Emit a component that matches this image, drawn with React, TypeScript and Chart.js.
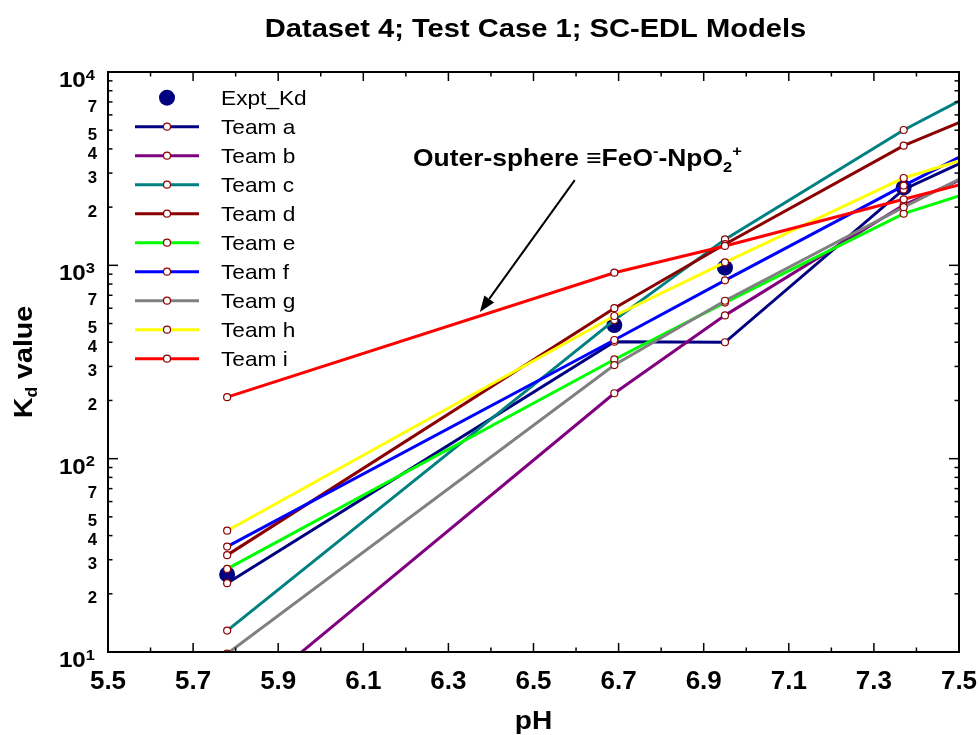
import React, { useEffect, useRef } from 'react';
import { Chart, registerables } from 'chart.js';
Chart.register(...registerables);

// ---------- data ----------
const PH = [5.78, 6.69, 6.95, 7.37, 7.5];
const EXPT_PH = [5.78, 6.69, 6.95, 7.37];
const EXPT_KD = [25.2, 491, 972, 2530];

const TEAM_NAMES = ['Team a', 'Team b', 'Team c', 'Team d', 'Team e', 'Team f', 'Team g', 'Team h', 'Team i'];
const TEAM_COLORS = ['#000080', '#800080', '#008080', '#8B0000', '#00FF00', '#0000FF', '#808080', '#FFFF00', '#FF0000'];
const TEAM_A = [22.7, 403, 400, 2470, 3350];
const TEAM_B = [4.8, 218, 551, 2050, 2750];
const TEAM_C = [12.9, 521, 1362, 5012, 7080];
const TEAM_D = [31.7, 600, 1286, 4158, 5470];
const TEAM_E = [26.9, 326, 642, 1850, 2283];
const TEAM_F = [35.1, 411, 836, 2585, 3620];
const TEAM_G = [9.8, 305, 656, 2000, 2786];
const TEAM_H = [42.4, 547, 1037, 2830, 3465];
const TEAM_I = [208, 916, 1260, 2195, 2604];
const TEAM_VALUES = [TEAM_A, TEAM_B, TEAM_C, TEAM_D, TEAM_E, TEAM_F, TEAM_G, TEAM_H, TEAM_I];
const MARKED = [true, true, true, true, false];

const X_MIN = 5.5;
const X_MAX = 7.5;
const X_STEP = 0.1;
const Y_MIN = 10;
const Y_MAX = 10000;
const Y_DECADES = [1, 2, 3];
const Y_MANTISSAS = [1, 2, 3, 4, 5, 6, 7, 8, 9];
const Y_LABELED = [2, 3, 4, 5, 7];
const SUPERS: Record<number, string> = { 1: '1', 2: '2', 3: '3', 4: '4' };

const TITLE = 'Dataset 4; Test Case 1; SC-EDL Models';
const X_TITLE = 'pH';
const EXPT_LABEL = 'Expt_Kd';

// annotation anchors (data coordinates)
const ANNOT_TEXT_AT = { x: 6.217, y: 3266 };
const ARROW_FROM = { x: 6.597, y: 2760 };
const ARROW_TO = { x: 6.374, y: 574 };

const FONT = '"Liberation Sans", Arial, Helvetica, sans-serif';

type Run = { t: string; size: number; bold?: boolean; dy?: number };

function drawRuns(ctx: CanvasRenderingContext2D, parts: Run[], x: number, y: number, align: string, sx: number) {
  const widths = parts.map((p) => {
    ctx.font = `${p.bold ? 'bold ' : ''}${p.size}px ${FONT}`;
    return ctx.measureText(p.t).width * sx;
  });
  const total = widths.reduce((s, w) => s + w, 0);
  let cx = align === 'left' ? x : align === 'center' ? x - total / 2 : x - total;
  parts.forEach((p, i) => {
    ctx.save();
    ctx.font = `${p.bold ? 'bold ' : ''}${p.size}px ${FONT}`;
    ctx.fillStyle = '#000';
    ctx.textAlign = 'left';
    ctx.textBaseline = 'alphabetic';
    ctx.translate(cx, y + (p.dy || 0));
    ctx.scale(sx, 1);
    ctx.fillText(p.t, 0, 0);
    ctx.restore();
    cx += widths[i];
  });
  return total;
}

const decor = {
  id: 'decor',
  afterDraw(chart: any) {
    const ctx: CanvasRenderingContext2D = chart.ctx;
    const a = chart.chartArea;
    const xs = chart.scales.x;
    const ys = chart.scales.y;
    ctx.save();
    const seg = (x1: number, y1: number, x2: number, y2: number) => {
      ctx.beginPath();
      ctx.moveTo(x1, y1);
      ctx.lineTo(x2, y2);
      ctx.stroke();
    };
    // frame
    ctx.strokeStyle = '#000';
    ctx.lineWidth = 2;
    ctx.strokeRect(a.left, a.top, a.right - a.left, a.bottom - a.top);

    // x ticks
    ctx.lineWidth = 1.5;
    xs.ticks.forEach((t: any) => {
      const px = xs.getPixelForValue(t.value);
      const k = Math.round(t.value * 10);
      const major = k % 2 === 1;
      const len = major ? 9 : 4.5;
      seg(px, a.bottom, px, a.bottom - len);
      seg(px, a.top, px, a.top + len);
      if (major) {
        drawRuns(ctx, [{ t: (k / 10).toFixed(1), size: 25, bold: true }], px, a.bottom + 37, 'center', 1.04);
      }
    });
    // y ticks
    ys.ticks.forEach((t: any) => {
      const v = t.value;
      const dec = Math.floor(Math.log10(v) + 1e-9);
      const mant = Math.round(v / Math.pow(10, dec));
      const py = ys.getPixelForValue(v);
      const major = mant === 1;
      const len = major ? 10 : 4.5;
      seg(a.left, py, a.left + len, py);
      seg(a.right, py, a.right - len, py);
      if (major) {
        drawRuns(ctx, [
          { t: '10', size: 22, bold: true, dy: 15 },
          { t: SUPERS[dec] || String(dec), size: 15, bold: true, dy: 7.5 },
        ], a.left - 13, py, 'right', 1.1);
      } else if (Y_LABELED.includes(mant)) {
        drawRuns(ctx, [{ t: String(mant), size: 16, bold: true }], a.left - 11, py + 9.6, 'right', 1.05);
      }
    });

    // title
    drawRuns(ctx, [{ t: TITLE, size: 26, bold: true }], (a.left + a.right) / 2 + 2, 37, 'center', 1.12);
    // x title
    drawRuns(ctx, [{ t: X_TITLE, size: 26, bold: true }], (a.left + a.right) / 2, 729, 'center', 1.08);
    // y title
    ctx.save();
    ctx.translate(32, (a.top + a.bottom) / 2);
    ctx.rotate(-Math.PI / 2);
    drawRuns(ctx, [
      { t: 'K', size: 26, bold: true },
      { t: 'd', size: 16, bold: true, dy: 5 },
      { t: ' value', size: 26, bold: true },
    ], 0, 0, 'center', 1.1);
    ctx.restore();

    // annotation
    const tx = xs.getPixelForValue(ANNOT_TEXT_AT.x);
    const ty = ys.getPixelForValue(ANNOT_TEXT_AT.y);
    drawRuns(ctx, [
      { t: 'Outer-sphere ', size: 24, bold: true },
      { t: '\u2261FeO', size: 24, bold: true },
      { t: '-', size: 15, bold: true, dy: -10 },
      { t: '-NpO', size: 24, bold: true },
      { t: '2', size: 15, bold: true, dy: 6 },
      { t: '+', size: 15, bold: true, dy: -10 },
    ], tx, ty, 'left', 1.1);
    const fx = xs.getPixelForValue(ARROW_FROM.x);
    const fy = ys.getPixelForValue(ARROW_FROM.y);
    const ex = xs.getPixelForValue(ARROW_TO.x);
    const ey = ys.getPixelForValue(ARROW_TO.y);
    const ang = Math.atan2(ey - fy, ex - fx);
    const hl = 16;
    const hw = 6;
    const bx = ex - hl * Math.cos(ang);
    const by = ey - hl * Math.sin(ang);
    ctx.strokeStyle = '#000';
    ctx.lineWidth = 2;
    seg(fx, fy, bx, by);
    ctx.fillStyle = '#000';
    ctx.beginPath();
    ctx.moveTo(ex, ey);
    ctx.lineTo(bx + hw * Math.sin(ang), by - hw * Math.cos(ang));
    ctx.lineTo(bx - hw * Math.sin(ang), by + hw * Math.cos(ang));
    ctx.closePath();
    ctx.fill();

    // legend
    const ds = chart.data.datasets;
    const lx1 = a.left + 27;
    const lx2 = a.left + 91;
    const mx = (lx1 + lx2) / 2;
    const tX = a.left + 113;
    ds.forEach((d: any, i: number) => {
      const ry = a.top + 25.7 + 29 * i;
      if (i === 0) {
        ctx.fillStyle = d.backgroundColor;
        ctx.beginPath();
        ctx.arc(mx, ry, 8, 0, Math.PI * 2);
        ctx.fill();
      } else {
        ctx.strokeStyle = d.borderColor;
        ctx.lineWidth = 3;
        seg(lx1, ry, lx2, ry);
        ctx.fillStyle = '#fff';
        ctx.strokeStyle = '#8B0000';
        ctx.lineWidth = 1.2;
        ctx.beginPath();
        ctx.arc(mx, ry, 3.5, 0, Math.PI * 2);
        ctx.fill();
        ctx.stroke();
      }
      drawRuns(ctx, [{ t: d.label, size: 21 }], tX, ry + 7.5, 'left', 1.08);
    });
    ctx.restore();
  },
};

export default function App() {
  const ref = useRef<HTMLCanvasElement>(null);
  useEffect(() => {
    document.body.style.margin = '0';
    const xTicks: number[] = [];
    for (let k = 0; k <= Math.round((X_MAX - X_MIN) / X_STEP); k++) xTicks.push(+(X_MIN + k * X_STEP).toFixed(2));
    const yTicks: number[] = [];
    Y_DECADES.forEach((d) => Y_MANTISSAS.forEach((m) => yTicks.push(m * Math.pow(10, d))));
    yTicks.push(Y_MAX);

    const datasets: any[] = [
      {
        label: EXPT_LABEL,
        data: EXPT_PH.map((x, i) => ({ x, y: EXPT_KD[i] })),
        showLine: false,
        pointRadius: 8,
        pointBorderWidth: 0,
        backgroundColor: '#000080',
        borderColor: '#000080',
        pointBackgroundColor: '#000080',
        order: 100,
      },
      ...TEAM_NAMES.map((name, t) => ({
        label: name,
        data: PH.map((x, i) => ({ x, y: TEAM_VALUES[t][i] })),
        borderColor: TEAM_COLORS[t],
        backgroundColor: TEAM_COLORS[t],
        borderWidth: 3,
        tension: 0,
        pointRadius: MARKED.map((m) => (m ? 3.5 : 0)),
        pointBackgroundColor: '#ffffff',
        pointBorderColor: '#8B0000',
        pointBorderWidth: 1.2,
        order: 20 - t,
      })),
    ];

    const chart = new Chart(ref.current as HTMLCanvasElement, {
      type: 'line',
      data: { datasets },
      options: {
        responsive: false,
        animation: false,
        events: [],
        layout: { padding: { top: 72, right: 20, left: 0, bottom: 0 } },
        plugins: { legend: { display: false }, tooltip: { enabled: false }, title: { display: false } },
        scales: {
          x: {
            type: 'linear',
            min: X_MIN,
            max: X_MAX,
            ticks: { display: false },
            grid: { display: false },
            border: { display: false },
            afterBuildTicks: (s: any) => { s.ticks = xTicks.map((v) => ({ value: v })); },
            afterFit: (s: any) => { s.height = 83; },
          },
          y: {
            type: 'logarithmic',
            min: Y_MIN,
            max: Y_MAX,
            ticks: { display: false },
            grid: { display: false },
            border: { display: false },
            afterBuildTicks: (s: any) => { s.ticks = yTicks.map((v) => ({ value: v })); },
            afterFit: (s: any) => { s.width = 108; },
          },
        },
      } as any,
      plugins: [decor],
    });
    return () => chart.destroy();
  }, []);
  return (
    <div style={{ width: 979, height: 735 }}>
      <canvas ref={ref} width={979} height={735} style={{ display: 'block' }} />
    </div>
  );
}
